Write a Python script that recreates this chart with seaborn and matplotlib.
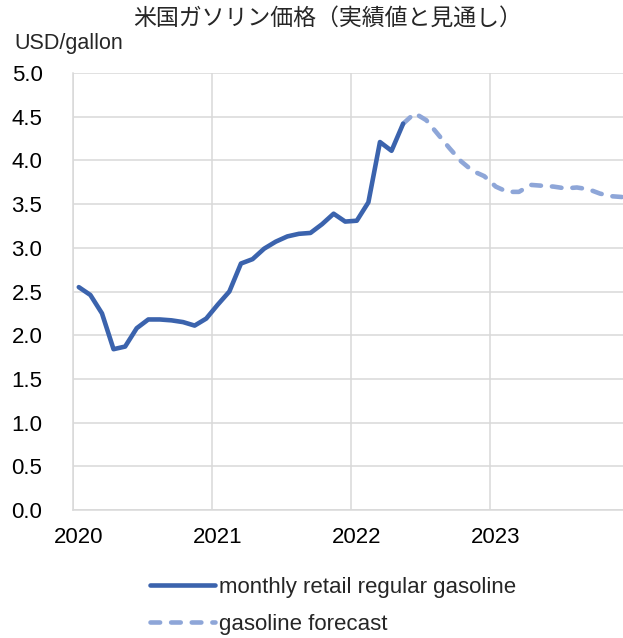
"recreate US gasoline price chart (actual + forecast)"

import numpy as np
import pandas as pd
import matplotlib
matplotlib.use('Agg')
import matplotlib.pyplot as plt
import seaborn as sns

# data, monthly Jan 2020 .. Dec 2023

years = ['2020', '2021', '2022', '2023']
actual = [2.55, 2.46, 2.25, 1.84, 1.87, 2.08, 2.18, 2.18, 2.17, 2.15, 2.11, 2.19,
          2.35, 2.50, 2.82, 2.87, 2.99, 3.07, 3.13, 3.16, 3.17, 3.27, 3.39, 3.30,
          3.31, 3.52, 4.21, 4.11, 4.42]
forecast = [4.42, 4.54, 4.46, 4.30, 4.14, 3.99, 3.88, 3.82,
            3.70, 3.64, 3.64, 3.72, 3.71, 3.70, 3.68, 3.69, 3.67, 3.62, 3.59, 3.58]
forecast_start = 28  # May 2022
n_months = 48

df_act = pd.DataFrame({'month': np.arange(len(actual)), 'price': actual})
df_fc = pd.DataFrame({'month': np.arange(forecast_start, forecast_start + len(forecast)), 'price': forecast})

sns.set_style('white')
plt.rcParams['font.family'] = ['Liberation Sans', 'Noto Sans CJK JP', 'DejaVu Sans']

W, H = 623, 638
fig = plt.figure(figsize=(W / 100, H / 100), dpi=100)
# plot area runs a little past the right edge of the image
ax = fig.add_axes([73 / W, 1 - 510 / H, 556 / W, (510 - 73) / H])

c_act = '#3B63AD'
c_fc = '#8EA6D8'

sns.lineplot(data=df_fc, x='month', y='price', ax=ax, color=c_fc, lw=3.3,
             linestyle=(0, (2.1, 2.4)), dash_capstyle='round',
             label='gasoline forecast')
sns.lineplot(data=df_act, x='month', y='price', ax=ax, color=c_act, lw=3.3,
             solid_capstyle='round', solid_joinstyle='round',
             label='monthly retail regular gasoline')

ax.set_xlim(-0.5, n_months - 0.5)
ax.set_ylim(0, 5)
ax.set_yticks(np.arange(0, 5.01, 0.5))
ax.set_yticklabels([f'{v:.1f}' for v in np.arange(0, 5.01, 0.5)])
ax.set_xticks(np.arange(0, n_months, 12))
ax.set_xticklabels(years)
ax.set_xticks(np.arange(-0.5, n_months, 12), minor=True)
ax.set_xlabel('')
ax.set_ylabel('')

grid_c = '#D9D9D9'
ax.grid(axis='y', color=grid_c, lw=1.1)
ax.grid(axis='x', which='minor', color=grid_c, lw=1.1)
ax.grid(axis='x', which='major', visible=False)
for s in ['top', 'right']:
    ax.spines[s].set_visible(False)
for s in ['left', 'bottom']:
    ax.spines[s].set_color(grid_c)
    ax.spines[s].set_linewidth(1.1)
ax.tick_params(axis='both', which='both', length=0, labelsize=16, colors='black')
ax.tick_params(axis='y', pad=22)
ax.tick_params(axis='x', pad=12)

# title and unit label
fig.text(328 / W, 1 - 18 / H, '米国ガソリン価格（実績値と見通し）', ha='center', va='center',
         fontsize=16.5, family=['Noto Sans CJK JP', 'DejaVu Sans'])
fig.text(14 / W, 1 - 43 / H, 'USD/gallon', ha='left', va='center', fontsize=15.5)

# legend below
handles, labels = ax.get_legend_handles_labels()
ax.get_legend().remove()
order = [1, 0]
fig.legend([handles[i] for i in order], [labels[i] for i in order],
           loc='upper left', bbox_to_anchor=(139 / W, 1 - 566 / H),
           frameon=False, fontsize=16, handlelength=2.9, handletextpad=0.2,
           labelspacing=0.72, borderpad=0)

fig.savefig('out.png', dpi=100)
